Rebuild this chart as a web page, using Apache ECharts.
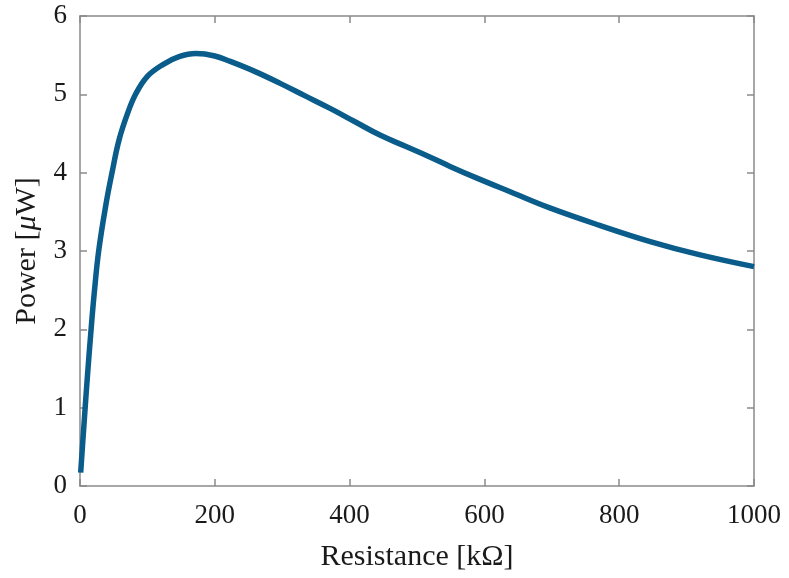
<!DOCTYPE html>
<html>
<head>
<meta charset="utf-8">
<script src="https://cdn.jsdelivr.net/npm/echarts@6/dist/echarts.min.js"></script>
<style>html,body{margin:0;padding:0;background:#fff;}#c{width:789px;height:578px;}</style>
</head>
<body>
<div id="c"></div>
<script>
const resistance = [1, 4, 7.4, 11, 16, 21, 27.7, 38.6, 47.5, 58, 70.7, 83, 100, 123, 147, 172, 200, 223, 260, 297, 334, 371, 408, 445, 482, 519, 549, 589, 640, 697, 770, 846, 920, 1000];
const power = [0.17, 0.55, 0.97, 1.4, 1.95, 2.45, 3.0, 3.6, 4.0, 4.42, 4.76, 5.01, 5.23, 5.38, 5.48, 5.52, 5.49, 5.42, 5.29, 5.14, 4.98, 4.82, 4.65, 4.48, 4.34, 4.20, 4.08, 3.93, 3.75, 3.55, 3.33, 3.12, 2.95, 2.80];
const xTicks = [0, 200, 400, 600, 800, 1000];
const yTicks = [0, 1, 2, 3, 4, 5, 6];

const font = 'Liberation Serif';
const axisLineStyle = { color: '#8a8a8a', width: 1.5 };
const chart = echarts.init(document.getElementById('c'));
const data = resistance.map((r, i) => [r, power[i]]);
const common = {
  type: 'value',
  axisLine: { show: true, onZero: false, lineStyle: axisLineStyle },
  axisTick: { show: true, inside: true, length: 7, lineStyle: axisLineStyle },
  splitLine: { show: false }
};
chart.setOption({
  animation: false,
  backgroundColor: '#ffffff',
  grid: { left: 80, right: 35, top: 16, bottom: 92 },
  xAxis: [Object.assign({}, common, {
    position: 'bottom', min: xTicks[0], max: xTicks[xTicks.length - 1], interval: 200,
    name: 'Resistance [kΩ]', nameLocation: 'middle', nameGap: 56,
    nameTextStyle: { fontFamily: font, fontSize: 30, color: '#1a1a1a' },
    axisLabel: { fontFamily: font, fontSize: 27, color: '#1a1a1a', margin: 16, formatter: v => String(v) }
  }), Object.assign({}, common, {
    position: 'top', min: xTicks[0], max: xTicks[xTicks.length - 1], interval: 200,
    axisLabel: { show: false }
  })],
  yAxis: [Object.assign({}, common, {
    position: 'left', min: yTicks[0], max: yTicks[yTicks.length - 1], interval: 1,
    name: 'Power [{i|μ}W]', nameLocation: 'middle', nameGap: 35,
    nameTextStyle: { fontFamily: font, fontSize: 30, color: '#1a1a1a',
      rich: { i: { fontFamily: font, fontSize: 30, fontStyle: 'italic', color: '#1a1a1a' } } },
    axisLabel: { fontFamily: font, fontSize: 27, color: '#1a1a1a', margin: 13 }
  }), Object.assign({}, common, {
    position: 'right', min: yTicks[0], max: yTicks[yTicks.length - 1], interval: 1,
    axisLabel: { show: false }
  })],
  series: [{
    type: 'line', data: data, smooth: 0.4, showSymbol: false,
    lineStyle: { color: '#0a5c8a', width: 5.5 }
  }, {
    type: 'line', xAxisIndex: 1, yAxisIndex: 1, data: [], showSymbol: false
  }]
});
</script>
</body>
</html>
